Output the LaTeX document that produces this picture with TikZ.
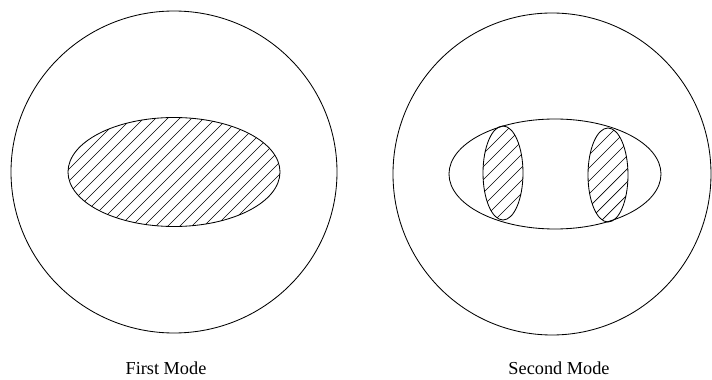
\documentclass[tikz,border=0pt]{standalone}
\usepackage{fontspec}
\setmainfont{Liberation Serif}
\usetikzlibrary{calc}
\begin{document}
\begin{tikzpicture}[x=0.025cm,y=-0.025cm,line width=0.6pt]
\useasboundingbox (0,0) rectangle (712,380);
\coordinate (c1) at (174,172);
\coordinate (c2) at (552,174);
\coordinate (e2) at (555,174);
\coordinate (h1) at (503,173);
\coordinate (h2) at (608,175);
\draw (c1) ellipse [x radius=163,y radius=161];
\draw (c2) ellipse [x radius=159,y radius=161];
\begin{scope}
\clip (c1) ellipse [x radius=106,y radius=54.5];
\foreach \k in {-14,...,14}
  \draw[line width=0.5pt] ($(c1)+(\k*12-120,120)$) -- ++(240,-240);
\end{scope}
\draw (c1) ellipse [x radius=106,y radius=54.5];
\draw (e2) ellipse [x radius=106,y radius=55];
\begin{scope}
\clip (h1) ellipse [x radius=20,y radius=47];
\foreach \k in {-8,...,8}
  \draw[line width=0.5pt] ($(h1)+(\k*13-60,60)$) -- ++(120,-120);
\end{scope}
\begin{scope}
\clip (h2) ellipse [x radius=20,y radius=47];
\foreach \k in {-8,...,8}
  \draw[line width=0.5pt] ($(h2)+(\k*13-60,60)$) -- ++(120,-120);
\end{scope}
\draw (h1) ellipse [x radius=20,y radius=47];
\draw (h2) ellipse [x radius=20,y radius=47];
\node[anchor=base,font=\fontsize{13}{15}\selectfont] (first) at (166,375) {First Mode};
\node[anchor=base,font=\fontsize{13}{15}\selectfont] (second) at (559,375) {Second Mode};
\end{tikzpicture}
\end{document}
